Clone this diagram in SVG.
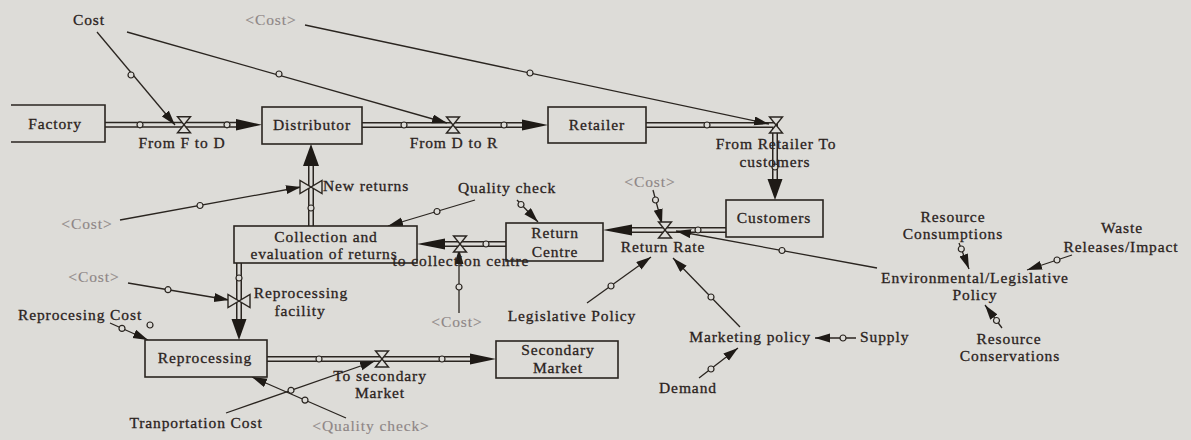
<svg xmlns="http://www.w3.org/2000/svg" xmlns:xlink="http://www.w3.org/1999/xlink" width="1191" height="440" viewBox="0 0 1191 440">
<style>
.t{font-family:"Liberation Serif","Times New Roman",serif;font-size:15.5px;letter-spacing:0.9px;fill:#2b231d;stroke:#2b231d;stroke-width:0.3px;text-anchor:middle}
.g{fill:#8e8686;stroke:#8e8686;stroke-width:0.15px}
.s{text-anchor:start}
.box{fill:#dddcd8;stroke:#2a2520;stroke-width:1.6}
.po{fill:none;stroke:#2a2520;stroke-width:6}
.pi{fill:none;stroke:#dddcd8;stroke-width:3}
.lk{fill:none;stroke:#2a2520;stroke-width:1.3;marker-end:url(#ah)}
.c{fill:#dddcd8;stroke:#2a2520;stroke-width:1.2}
.v{fill:#dddcd8;stroke:#2a2520;stroke-width:1.4;stroke-linejoin:miter}
.pa{fill:#1e1a16}
</style>
<defs>
<marker id="ah" markerUnits="userSpaceOnUse" markerWidth="16" markerHeight="10" refX="15" refY="4.5" orient="auto">
<path d="M0,0 L15,4.5 L0,9 Z" fill="#1e1a16"/>
</marker>
<path id="vh" d="M-6.5,-8 H6.5 L-6.5,8 H6.5 Z"/>
<path id="vv" d="M-11,-6.5 V6.5 L11,-6.5 V6.5 Z"/>
<circle id="dot" r="3"/>
</defs>
<rect width="1191" height="440" fill="#dddcd8"/>

<g id="connectors">
<path class="po" d="M105,124.8 H236"/><path class="pi" d="M105,124.8 H236"/>
<path class="po" d="M362,125 H522"/><path class="pi" d="M362,125 H522"/>
<path class="po" d="M646,125 H775 V179"/><path class="pi" d="M646,125 H775 V179"/>
<path class="po" d="M726,230 H632"/><path class="pi" d="M726,230 H632"/>
<path class="po" d="M506,244 H445"/><path class="pi" d="M506,244 H445"/>
<path class="po" d="M311,226 V166"/><path class="pi" d="M311,226 V166"/>
<path class="po" d="M239,263 V319"/><path class="pi" d="M239,263 V319"/>
<path class="po" d="M267,359 H470"/><path class="pi" d="M267,359 H470"/>
<path class="pa" d="M262,124.8 L236,119 L236,130.5 Z"/>
<path class="pa" d="M548,125 L522,119.5 L522,130.5 Z"/>
<path class="pa" d="M775,200 L767.5,179 L782.5,179 Z"/>
<path class="pa" d="M603,230 L632,224.5 L632,235.5 Z"/>
<path class="pa" d="M417,244 L445,238.5 L445,249.5 Z"/>
<path class="pa" d="M311,144 L303,166 L319,166 Z"/>
<path class="pa" d="M239,340 L231.5,319 L246.5,319 Z"/>
<path class="pa" d="M496,359 L470,353.5 L470,364.5 Z"/>
<use href="#dot" class="c" x="140" y="124.8"/>
<use href="#dot" class="c" x="227" y="124.8"/>
<use href="#dot" class="c" x="404" y="125"/>
<use href="#dot" class="c" x="504" y="125"/>
<use href="#dot" class="c" x="707" y="125"/>
<use href="#dot" class="c" x="775" y="167"/>
<use href="#dot" class="c" x="698" y="230"/>
<use href="#dot" class="c" x="486" y="244"/>
<use href="#dot" class="c" x="311" y="208"/>
<use href="#dot" class="c" x="239" y="278"/>
<use href="#dot" class="c" x="319" y="359"/>
<use href="#dot" class="c" x="442" y="359"/>
<path class="lk" d="M97,32 L175,125"/>
<use href="#dot" class="c" x="131" y="75"/>
<path class="lk" d="M127,32 L447,123"/>
<use href="#dot" class="c" x="279" y="74"/>
<path class="lk" d="M305,25 L769,124"/>
<use href="#dot" class="c" x="530" y="73"/>
<path class="lk" d="M120,220 L301,187"/>
<use href="#dot" class="c" x="200" y="205.5"/>
<path class="lk" d="M475,200 L388,226"/>
<use href="#dot" class="c" x="437" y="211.5"/>
<path class="lk" d="M517,200 L538,222"/>
<use href="#dot" class="c" x="521" y="204.5"/>
<path class="lk" d="M653,190 L662,224"/>
<use href="#dot" class="c" x="655.5" y="200"/>
<path class="lk" d="M877,268 L676,231"/>
<use href="#dot" class="c" x="782" y="250.5"/>
<path class="lk" d="M587,303 L651,257"/>
<use href="#dot" class="c" x="611" y="286"/>
<path class="lk" d="M740,327 L673,258"/>
<use href="#dot" class="c" x="711" y="297"/>
<path class="lk" d="M856,338 L815,338"/>
<use href="#dot" class="c" x="843" y="338"/>
<path class="lk" d="M699,378 L738,348"/>
<use href="#dot" class="c" x="711" y="369"/>
<path class="lk" d="M459,313 L459,249"/>
<use href="#dot" class="c" x="459" y="287"/>
<path class="lk" d="M128,283 L229,300"/>
<use href="#dot" class="c" x="168" y="289.7"/>
<path class="lk" d="M110,323 L148,340"/>
<use href="#dot" class="c" x="122" y="328.4"/>
<use href="#dot" class="c" x="150" y="325"/>
<path class="lk" d="M226,413 L375,361"/>
<use href="#dot" class="c" x="291" y="390.3"/>
<path class="lk" d="M346,418 L252,377"/>
<use href="#dot" class="c" x="305" y="400.1"/>
<path class="lk" d="M959,243 L969,269"/>
<use href="#dot" class="c" x="961.3" y="249"/>
<path class="lk" d="M1072,255 L1027,270"/>
<use href="#dot" class="c" x="1057" y="260"/>
<path class="lk" d="M1002,328 L985,305"/>
<use href="#dot" class="c" x="996.5" y="320.5"/>
</g>

<g id="factory"><path class="box" d="M11,105 H105 V142 H11"/><text class="t" x="55" y="129">Factory</text></g>
<g id="distributor"><rect class="box" x="262" y="107" width="100" height="37"/><text class="t" x="312" y="130">Distributor</text></g>
<g id="retailer"><rect class="box" x="548" y="107" width="98" height="36"/><text class="t" x="597" y="130">Retailer</text></g>
<g id="customers"><rect class="box" x="726" y="200" width="97" height="37"/><text class="t" x="774" y="223">Customers</text></g>
<g id="return-centre"><rect class="box" x="506" y="223" width="97" height="38"/><text class="t" x="555" y="238">Return</text><text class="t" x="555" y="257">Centre</text></g>
<g id="collection"><rect class="box" x="234" y="226" width="183" height="37"/><text class="t" x="326" y="242">Collection and</text><text class="t" x="324" y="259">evaluation of returns</text></g>
<g id="reprocessing"><rect class="box" x="145" y="340" width="122" height="37"/><text class="t" x="205" y="363">Reprocessing</text></g>
<g id="secondary-market"><rect class="box" x="496" y="341" width="122" height="37"/><text class="t" x="558" y="355">Secondary</text><text class="t" x="558" y="373">Market</text></g>

<g id="from-f-to-d"><use href="#vh" class="v" x="184" y="124.8"/><text class="t" x="182" y="148">From F to D</text></g>
<g id="from-d-to-r"><use href="#vh" class="v" x="453" y="125"/><text class="t" x="454" y="148">From D to R</text></g>
<g id="from-retailer"><use href="#vh" class="v" x="776" y="125"/><text class="t" x="776" y="149">From Retailer To</text><text class="t" x="775" y="167">customers</text></g>
<g id="return-rate"><use href="#vh" class="v" x="665" y="230"/><text class="t" x="663" y="252">Return Rate</text></g>
<g id="to-collection-centre"><use href="#vh" class="v" x="460" y="244"/><text class="t" x="461" y="266">to collection centre</text></g>
<g id="new-returns"><use href="#vv" class="v" x="311" y="187"/><text class="t s" x="323" y="191">New returns</text></g>
<g id="reprocessing-facility"><use href="#vv" class="v" x="239" y="301"/><text class="t" x="301" y="298">Reprocessing</text><text class="t" x="300" y="316">facility</text></g>
<g id="to-secondary"><use href="#vh" class="v" x="382" y="359"/><text class="t" x="380" y="381">To secondary</text><text class="t" x="380" y="398">Market</text></g>

<g id="cost"><text class="t" x="89" y="25">Cost</text></g>
<g id="cost-shadow-1"><text class="t g" x="271" y="25">&lt;Cost&gt;</text></g>
<g id="cost-shadow-2"><text class="t g" x="87" y="229">&lt;Cost&gt;</text></g>
<g id="cost-shadow-3"><text class="t g" x="94" y="282">&lt;Cost&gt;</text></g>
<g id="cost-shadow-4"><text class="t g" x="457" y="327">&lt;Cost&gt;</text></g>
<g id="cost-shadow-5"><text class="t g" x="650" y="187">&lt;Cost&gt;</text></g>
<g id="quality-check"><text class="t" x="507" y="193">Quality check</text></g>
<g id="quality-check-shadow"><text class="t g" x="371" y="431">&lt;Quality check&gt;</text></g>
<g id="reprocesing-cost"><text class="t" x="80" y="320">Reprocesing Cost</text></g>
<g id="tranportation-cost"><text class="t" x="196" y="428">Tranportation Cost</text></g>
<g id="legislative-policy"><text class="t" x="572" y="321">Legislative Policy</text></g>
<g id="marketing-policy"><text class="t" x="750" y="342">Marketing policy</text></g>
<g id="supply"><text class="t s" x="860" y="342">Supply</text></g>
<g id="demand"><text class="t" x="688" y="393">Demand</text></g>
<g id="env-policy"><text class="t" x="975" y="283">Environmental/Legislative</text><text class="t" x="975" y="300">Policy</text></g>
<g id="resource-consumptions"><text class="t" x="953" y="222">Resource</text><text class="t" x="953" y="239">Consumptions</text></g>
<g id="waste"><text class="t" x="1122" y="233">Waste</text><text class="t" x="1121" y="252">Releases/Impact</text></g>
<g id="resource-conservations"><text class="t" x="1009" y="344">Resource</text><text class="t" x="1010" y="361">Conservations</text></g>
</svg>
